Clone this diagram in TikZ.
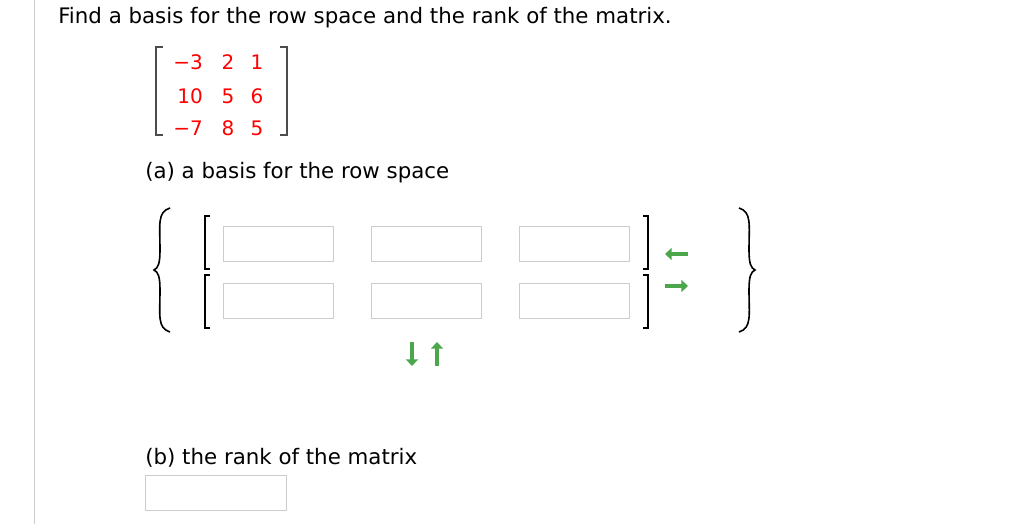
\documentclass[tikz,border=0pt]{standalone}
\usepackage{fontspec}
\setmainfont{DejaVu Sans}
\usetikzlibrary{decorations.pathreplacing,arrows.meta}
\begin{document}
\begin{tikzpicture}[x=0.75pt,y=-0.75pt,
  txt/.style={anchor=west,inner sep=0,font=\fontsize{16}{19}\selectfont},
  ent/.style={text=red,inner sep=0,font=\fontsize{15}{17}\selectfont},
  box/.style={draw=black!20,minimum width=82.5pt,minimum height=26.5pt,inner sep=0},
  brk/.style={draw=black!70,line width=1.3pt},
  garrow/.style={draw=green!50!black!70,line width=3pt,-{Triangle[length=5pt,width=9pt]}}]
\useasboundingbox[fill=white] (0,0) rectangle (1024,524);
\draw[black!20] (34,0) -- (34,524);
\node[txt] (title) at (58,18) {Find a basis for the row space and the rank of the matrix.};
% matrix
\draw[brk] (163,47) -- (156,47) -- (156,135) -- (163,135);
\draw[brk] (280,47) -- (287,47) -- (287,135) -- (280,135);
\foreach \r/\y/\a/\b/\c in {1/62/−3/2/1,2/96/10/5/6,3/128/−7/8/5}{
  \node[ent,anchor=east] (m\r a) at (203,\y) {\a};
  \node[ent] (m\r b) at (228,\y) {\b};
  \node[ent] (m\r c) at (257,\y) {\c};
}
\node[txt] (a) at (145,173) {(a) a basis for the row space};
% braces
\draw[line width=1.2pt] (170,208) .. controls (157,212) and (160,225) .. (160,250) .. controls (160,264) and (158,268) .. (154,270) .. controls (158,272) and (160,276) .. (160,290) .. controls (160,315) and (157,328) .. (170,332);
\draw[line width=1.2pt] (739,208) .. controls (752,212) and (749,225) .. (749,250) .. controls (749,264) and (751,268) .. (755,270) .. controls (751,272) and (749,276) .. (749,290) .. controls (749,315) and (752,328) .. (739,332);
% brackets rows
\draw[black,line width=0.8pt] (210,216) -- (205,216) -- (205,269) -- (210,269);
\draw[black,line width=0.8pt] (210,275) -- (205,275) -- (205,328) -- (210,328);
\draw[black,line width=0.8pt] (643,216) -- (648,216) -- (648,269) -- (643,269);
\draw[black,line width=0.8pt] (643,275) -- (648,275) -- (648,328) -- (643,328);
\foreach \i/\x in {1/278,2/426,3/574}{
  \node[box] (r1\i) at (\x,243.5) {};
  \node[box] (r2\i) at (\x,301) {};
}
\coordinate (la1) at (688,254); \coordinate (la2) at (665,254);
\coordinate (ra1) at (665,286); \coordinate (ra2) at (688,286);
\coordinate (da1) at (412,342); \coordinate (da2) at (412,366);
\coordinate (ua1) at (437,366); \coordinate (ua2) at (437,342);
\draw[garrow] (la1) -- (la2);
\draw[garrow] (ra1) -- (ra2);
\draw[garrow] (da1) -- (da2);
\draw[garrow] (ua1) -- (ua2);
\node[txt] (b) at (145,458) {(b) the rank of the matrix};
\node[box,minimum width=106pt] (rank) at (215.5,493) {};
\end{tikzpicture}
\end{document}
